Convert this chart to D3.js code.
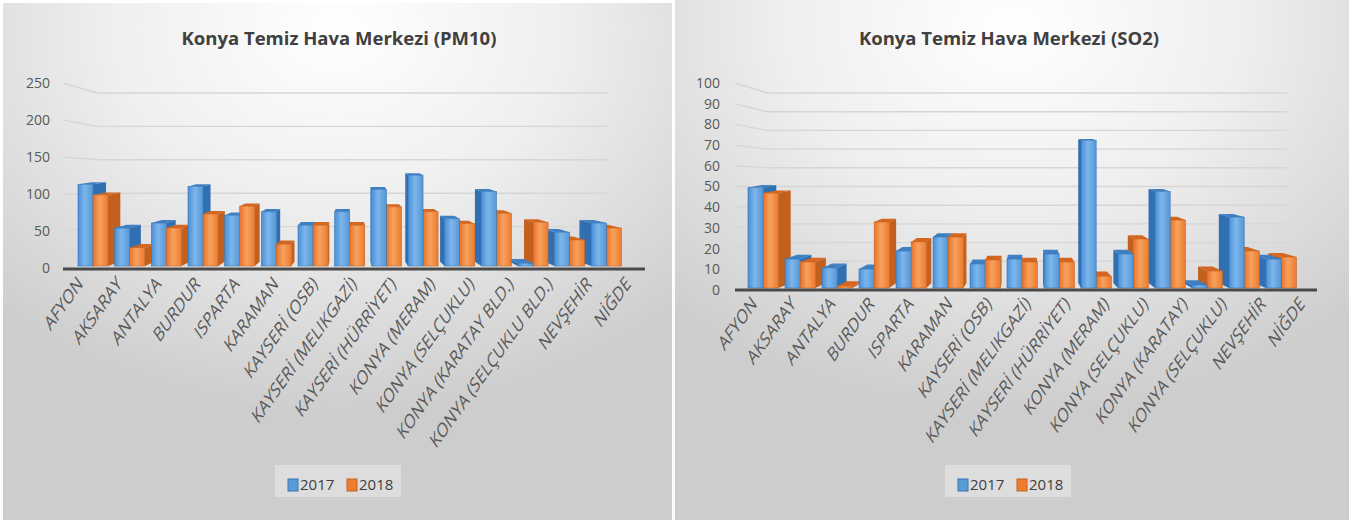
<!DOCTYPE html>
<html>
<head>
<meta charset="utf-8">
<script src="https://cdn.jsdelivr.net/npm/d3@7"></script>
<style>
  body { margin: 0; background: #ffffff; }
  svg { display: block; }
  text { font-family: "Open Sans", "DejaVu Sans", sans-serif; }
</style>
</head>
<body>
<div id="chart"></div>
<script>
// region Data
const pmCategories = [
    'AFYON', 'AKSARAY', 'ANTALYA', 'BURDUR', 'ISPARTA', 'KARAMAN',
    'KAYSERİ (OSB)', 'KAYSERİ (MELIKGAZİ)', 'KAYSERİ (HÜRRİYET)', 'KONYA (MERAM)',
    'KONYA (SELÇUKLU)', 'KONYA (KARATAY BLD.)', 'KONYA (SELÇUKLU BLD.)', 'NEVŞEHİR', 'NİĞDE'
];
const pm2017 = [116, 54, 61, 113, 72, 77, 58, 77, 109, 129, 67, 106, 4, 48, 61];
const pm2018 = [101, 26, 54, 74, 85, 31, 58, 58, 84, 77, 60, 75, 62, 37, 54];
const pmTicks = [0, 50, 100, 150, 200, 250];

const soCategories = [
    'AFYON', 'AKSARAY', 'ANTALYA', 'BURDUR', 'ISPARTA', 'KARAMAN',
    'KAYSERİ (OSB)', 'KAYSERİ (MELIKGAZİ)', 'KAYSERİ (HÜRRİYET)', 'KONYA (MERAM)',
    'KONYA (SELÇUKLU)', 'KONYA (KARATAY)', 'KONYA (SELÇUKLU)', 'NEVŞEHİR', 'NİĞDE'
];
const so2017 = [51, 14.7, 10.2, 9.6, 18.8, 25.9, 12.2, 14.7, 17.3, 75, 17.3, 49, 1.5, 36, 14.7];
const so2018 = [48.2, 13.2, 1, 33.5, 23.4, 25.9, 14.2, 13.2, 13.2, 6, 24.9, 34.5, 8.6, 18.8, 15.7];
const soTicks = [0, 10, 20, 30, 40, 50, 60, 70, 80, 90, 100];

const years = ['2017', '2018'];
// endregion

const W = 1351, H = 523;
const svg = d3.select('#chart').append('svg').attr('width', W).attr('height', H);
const defs = svg.append('defs');

// panel background
let bg = defs.append('radialGradient').attr('id', 'panelBg')
    .attr('cx', '50%').attr('cy', '5%').attr('r', '75%');
bg.append('stop').attr('offset', '0%').attr('stop-color', '#ffffff');
bg.append('stop').attr('offset', '45%').attr('stop-color', '#efefef');
bg.append('stop').attr('offset', '100%').attr('stop-color', '#cdcdcd');

let faceGrad = (id, stops) => {
    let g = defs.append('linearGradient').attr('id', id)
        .attr('x1', 0).attr('x2', 1).attr('y1', 0).attr('y2', 0);
    stops.forEach(s => g.append('stop').attr('offset', s[0]).attr('stop-color', s[1]));
};
faceGrad('blueFront', [[0, '#4a8fd6'], [0.45, '#7db6ec'], [1, '#5597d6']]);
faceGrad('orangeFront', [[0, '#e8722a'], [0.45, '#f7a25e'], [1, '#ec7b30']]);

const colors = {
    '2017': {front: 'url(#blueFront)', side: '#2f6fb2', top: '#3f80c2', stroke: '#3474b4', key: '#5b9bd5'},
    '2018': {front: 'url(#orangeFront)', side: '#c2601f', top: '#d4661f', stroke: '#c8621f', key: '#ed7d31'}
};

function drawChart(cfg) {
    let g = svg.append('g');

    g.append('rect')
        .attr('x', cfg.panel[0]).attr('y', cfg.panel[1])
        .attr('width', cfg.panel[2]).attr('height', cfg.panel[3])
        .attr('fill', 'url(#panelBg)');

    g.append('text')
        .attr('x', cfg.titleX).attr('y', 45)
        .attr('text-anchor', 'middle')
        .attr('font-size', 18.5).attr('font-weight', 'bold')
        .attr('fill', '#404040')
        .text(cfg.title);

    const idx = d3.range(cfg.categories.length);
    const x = d3.scaleBand().domain(idx).range(cfg.barRange);
    const xLab = d3.scalePoint().domain(idx).range(cfg.labelRange);
    const yFront = d3.scaleLinear().domain(cfg.domain).range(cfg.frontRange);
    const yBack = d3.scaleLinear().domain(cfg.domain).range(cfg.backRange);
    const yBar = d3.scaleLinear().domain(cfg.domain).range(cfg.barY);

    // gridlines on the back wall
    g.append('g').selectAll('path')
        .data(cfg.ticks.filter(t => t > 0)).enter()
        .append('path')
        .attr('d', t => `M${cfg.gridX[0]},${yFront(t)}L${cfg.gridX[1]},${yBack(t)}L${cfg.gridX[2]},${yBack(t)}`)
        .attr('fill', 'none')
        .attr('stroke', '#d6d6d6')
        .attr('stroke-width', 1.4);

    // tick labels
    g.append('g').selectAll('text')
        .data(cfg.ticks).enter()
        .append('text')
        .attr('x', cfg.tickX)
        .attr('y', t => yFront(t))
        .attr('dy', '0.35em')
        .attr('text-anchor', 'end')
        .attr('font-size', 14)
        .attr('fill', '#595959')
        .text(t => t);

    // bars, drawn with a simple perspective toward a vanishing point
    const bw = x.bandwidth() * 0.41;
    const vx = (cfg.barRange[0] + cfg.barRange[1]) / 2, vy = cfg.vy, sx = 0.05, sy = 0.025;
    let bars = [];
    idx.forEach(i => {
        years.forEach((yr, k) => {
            let x0 = x(i) + k * bw, x1 = x0 + bw;
            bars.push({i: i, yr: yr, x0: x0, x1: x1, yt: yBar(cfg.series[k][i]), yb: yBar(0)});
        });
    });
    bars.sort((a, b) => Math.abs((b.x0 + b.x1) / 2 - vx) - Math.abs((a.x0 + a.x1) / 2 - vx));

    let back = (px, py) => [px + (vx - px) * sx, py + (vy - py) * sy];
    let barG = g.append('g');
    bars.forEach(b => {
        let c = colors[b.yr];
        let bar = barG.append('g');
        let tl = back(b.x0, b.yt), tr = back(b.x1, b.yt),
            bl = back(b.x0, b.yb), br = back(b.x1, b.yb);
        if (b.x1 < vx) {
            bar.append('polygon')
                .attr('points', [[b.x1, b.yt], tr, br, [b.x1, b.yb]].join(' '))
                .attr('fill', c.side);
        } else if (b.x0 > vx) {
            bar.append('polygon')
                .attr('points', [[b.x0, b.yt], tl, bl, [b.x0, b.yb]].join(' '))
                .attr('fill', c.side);
        }
        if (b.yt > vy) {
            bar.append('polygon')
                .attr('points', [[b.x0, b.yt], [b.x1, b.yt], tr, tl].join(' '))
                .attr('fill', c.top);
        }
        bar.append('rect')
            .attr('x', b.x0).attr('y', b.yt)
            .attr('width', bw).attr('height', Math.max(0, b.yb - b.yt))
            .attr('fill', c.front)
            .attr('stroke', c.stroke).attr('stroke-width', 0.6);
    });

    // floor line
    g.append('line')
        .attr('x1', cfg.floorX[0]).attr('x2', cfg.floorX[1])
        .attr('y1', cfg.floorY).attr('y2', cfg.floorY)
        .attr('stroke', '#4a4a4a').attr('stroke-width', 3);

    // category labels, stretched like the tilted 3D axis text
    g.append('g').selectAll('text')
        .data(idx).enter()
        .append('text')
        .attr('transform', i => `translate(${xLab(i)},${cfg.labelY}) scale(1,1.4) rotate(-45)`)
        .attr('text-anchor', 'end')
        .attr('dy', '0.35em')
        .attr('font-size', 14.5)
        .attr('fill', '#595959')
        .text(i => cfg.categories[i]);

    // legend
    let lg = g.append('g').attr('transform', `translate(${cfg.legend[0]},${cfg.legend[1]})`);
    lg.append('rect')
        .attr('x', 0).attr('y', 0).attr('width', 126).attr('height', 32)
        .attr('fill', '#e4e4e4').attr('opacity', 0.7);
    years.forEach((yr, k) => {
        lg.append('rect')
            .attr('x', 13 + k * 59).attr('y', 14).attr('width', 10).attr('height', 12)
            .attr('fill', colors[yr].key).attr('stroke', colors[yr].stroke).attr('stroke-width', 1);
        lg.append('text')
            .attr('x', 25 + k * 59).attr('y', 25)
            .attr('font-size', 15)
            .attr('fill', '#404040')
            .text(yr);
    });
}

drawChart({
    panel: [3, 3, 669, 517],
    title: 'Konya Temiz Hava Merkezi (PM10)',
    titleX: 339,
    categories: pmCategories,
    series: [pm2017, pm2018],
    ticks: pmTicks,
    domain: [0, 250],
    frontRange: [268, 83],
    backRange: [260, 93],
    barY: [266, 90],
    barRange: [78, 628],
    labelRange: [80, 628],
    labelY: 280,
    gridX: [63, 97, 607],
    tickX: 50,
    floorX: [63, 645],
    floorY: 269,
    vy: 100,
    legend: [275, 465]
});

drawChart({
    panel: [675, 0, 674, 520],
    title: 'Konya Temiz Hava Merkezi (SO2)',
    titleX: 1009,
    categories: soCategories,
    series: [so2017, so2018],
    ticks: soTicks,
    domain: [0, 100],
    frontRange: [290, 83],
    backRange: [280, 93],
    barY: [288, 91],
    barRange: [748, 1303],
    labelRange: [754, 1302],
    labelY: 300,
    gridX: [735, 767, 1287],
    tickX: 720,
    floorX: [735, 1317],
    floorY: 290,
    vy: 90,
    legend: [945, 465]
});
</script>
</body>
</html>
